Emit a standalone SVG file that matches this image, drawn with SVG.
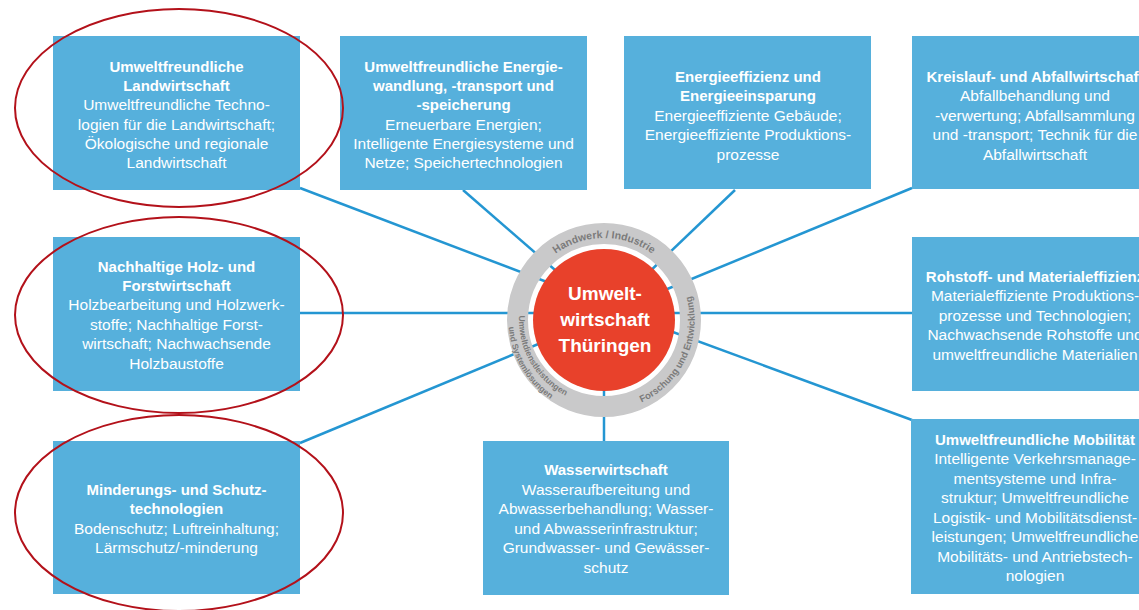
<svg xmlns="http://www.w3.org/2000/svg" width="1139" height="610" viewBox="0 0 1139 610">
<style>
.box{fill:#56b0dc}
.t{font-family:"Liberation Sans",Arial,sans-serif;fill:#ffffff;text-anchor:middle;font-size:15.5px}
.b{font-weight:bold;font-size:15px}
.conn line{stroke:#2496d2;stroke-width:2.5}
.ring{font-family:"Liberation Sans",Arial,sans-serif;fill:#7b7b7b;font-weight:bold}
.ann{fill:none;stroke:#b3111a;stroke-width:2}
</style>
<defs>
<path id="arcTop" d="M522,320 A82,82 0 0 1 686,320"/>
<path id="arcRight" d="M573.05,405.07 A90.5,90.5 0 0 0 649.25,241.63"/>
<path id="arcLeft1" d="M549.36,254.89 A85,85 0 0 0 633.07,399.87"/>
<path id="arcLeft2" d="M542.61,246.85 A95.5,95.5 0 0 0 636.66,409.74"/>
</defs>
<rect width="1139" height="610" fill="#ffffff"/>
<g id="connectors" class="conn">
<line x1="300" y1="188" x2="560" y2="287"/>
<line x1="463" y1="190" x2="562" y2="276"/>
<line x1="735" y1="190" x2="645" y2="276"/>
<line x1="912" y1="188" x2="660" y2="292"/>
<line x1="300" y1="313" x2="548" y2="313"/>
<line x1="912" y1="313" x2="662" y2="313"/>
<line x1="300" y1="443" x2="548" y2="340"/>
<line x1="604" y1="441" x2="604" y2="385"/>
<line x1="912" y1="420" x2="662" y2="328"/>
</g>
<g id="center">
<circle cx="604" cy="320" r="86.5" fill="none" stroke="#c9c9ca" stroke-width="21"/>
<circle cx="604" cy="320" r="71" fill="#e8412b"/>
<text class="t" style="font-weight:bold;font-size:19px"><tspan x="605" y="300">Umwelt-</tspan><tspan x="605" y="326">wirtschaft</tspan><tspan x="605" y="352">Thüringen</tspan></text>
<text class="ring" font-size="10.5"><textPath href="#arcTop" startOffset="50%" text-anchor="middle">Handwerk / Industrie</textPath></text>
<text class="ring" font-size="9.5"><textPath href="#arcRight" startOffset="50%" text-anchor="middle">Forschung und Entwicklung</textPath></text>
<text class="ring" font-size="8.5"><textPath href="#arcLeft1" startOffset="50%" text-anchor="middle">Umweltdienstleistungen</textPath></text>
<text class="ring" font-size="8.5"><textPath href="#arcLeft2" startOffset="50%" text-anchor="middle">und Systemlösungen</textPath></text>
</g>
<g id="n1">
<rect class="box" x="53" y="36" width="247" height="154"/>
<text class="t"><tspan class="b" x="176.5" y="72">Umweltfreundliche</tspan><tspan class="b" x="176.5" y="91">Landwirtschaft</tspan><tspan x="176.5" y="110">Umweltfreundliche Techno-</tspan><tspan x="176.5" y="130">logien für die Landwirtschaft;</tspan><tspan x="176.5" y="149">Ökologische und regionale</tspan><tspan x="176.5" y="168">Landwirtschaft</tspan></text>
</g>
<g id="n2">
<rect class="box" x="340" y="36" width="247" height="154"/>
<text class="t"><tspan class="b" x="463.5" y="72">Umweltfreundliche Energie-</tspan><tspan class="b" x="463.5" y="91">wandlung, -transport und</tspan><tspan class="b" x="463.5" y="110">-speicherung</tspan><tspan x="463.5" y="130">Erneuerbare Energien;</tspan><tspan x="463.5" y="149">Intelligente Energiesysteme und</tspan><tspan x="463.5" y="168">Netze; Speichertechnologien</tspan></text>
</g>
<g id="n3">
<rect class="box" x="624" y="36" width="247" height="153"/>
<text class="t"><tspan class="b" x="748" y="82">Energieeffizienz und</tspan><tspan class="b" x="748" y="101">Energieeinsparung</tspan><tspan x="748" y="121">Energieeffiziente Gebäude;</tspan><tspan x="748" y="140">Energieeffiziente Produktions-</tspan><tspan x="748" y="160">prozesse</tspan></text>
</g>
<g id="n4">
<rect class="box" x="912" y="36" width="247" height="153"/>
<text class="t"><tspan class="b" x="1035" y="82">Kreislauf- und Abfallwirtschaft</tspan><tspan x="1035" y="101">Abfallbehandlung und</tspan><tspan x="1035" y="121">-verwertung; Abfallsammlung</tspan><tspan x="1035" y="140">und -transport; Technik für die</tspan><tspan x="1035" y="160">Abfallwirtschaft</tspan></text>
</g>
<g id="n5">
<rect class="box" x="53" y="237" width="247" height="154"/>
<text class="t"><tspan class="b" x="176.5" y="272">Nachhaltige Holz- und</tspan><tspan class="b" x="176.5" y="291">Forstwirtschaft</tspan><tspan x="176.5" y="310">Holzbearbeitung und Holzwerk-</tspan><tspan x="176.5" y="330">stoffe; Nachhaltige Forst-</tspan><tspan x="176.5" y="349">wirtschaft; Nachwachsende</tspan><tspan x="176.5" y="369">Holzbaustoffe</tspan></text>
</g>
<g id="n6">
<rect class="box" x="912" y="237" width="247" height="154"/>
<text class="t"><tspan class="b" x="1035" y="282">Rohstoff- und Materialeffizienz</tspan><tspan x="1035" y="301">Materialeffiziente Produktions-</tspan><tspan x="1035" y="321">prozesse und Technologien;</tspan><tspan x="1035" y="340">Nachwachsende Rohstoffe und</tspan><tspan x="1035" y="360">umweltfreundliche Materialien</tspan></text>
</g>
<g id="n7">
<rect class="box" x="53" y="441" width="247" height="153"/>
<text class="t"><tspan class="b" x="176.5" y="495">Minderungs- und Schutz-</tspan><tspan class="b" x="176.5" y="514">technologien</tspan><tspan x="176.5" y="534">Bodenschutz; Luftreinhaltung;</tspan><tspan x="176.5" y="553">Lärmschutz/-minderung</tspan></text>
</g>
<g id="n8">
<rect class="box" x="483" y="441" width="246" height="154"/>
<text class="t"><tspan class="b" x="606" y="475">Wasserwirtschaft</tspan><tspan x="606" y="495">Wasseraufbereitung und</tspan><tspan x="606" y="514">Abwasserbehandlung; Wasser-</tspan><tspan x="606" y="534">und Abwasserinfrastruktur;</tspan><tspan x="606" y="553">Grundwasser- und Gewässer-</tspan><tspan x="606" y="573">schutz</tspan></text>
</g>
<g id="n9">
<rect class="box" x="911" y="419" width="248" height="175"/>
<text class="t"><tspan class="b" x="1035" y="445">Umweltfreundliche Mobilität</tspan><tspan x="1035" y="464">Intelligente Verkehrsmanage-</tspan><tspan x="1035" y="484">mentsysteme und Infra-</tspan><tspan x="1035" y="503">struktur; Umweltfreundliche</tspan><tspan x="1035" y="523">Logistik- und Mobilitätsdienst-</tspan><tspan x="1035" y="542">leistungen; Umweltfreundliche</tspan><tspan x="1035" y="562">Mobilitäts- und Antriebstech-</tspan><tspan x="1035" y="581">nologien</tspan></text>
</g>
<g id="annotations">
<ellipse class="ann" cx="179" cy="108" rx="164" ry="99"/>
<ellipse class="ann" cx="179" cy="315" rx="164" ry="98"/>
<ellipse class="ann" cx="179" cy="513" rx="164" ry="98"/>
</g>
</svg>
